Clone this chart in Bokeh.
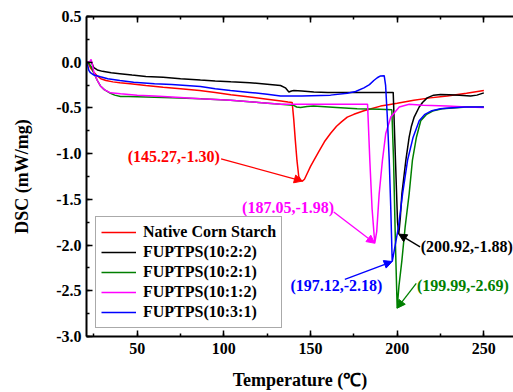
from bokeh.plotting import figure
from bokeh.models import (Range1d, LinearAxis, SingleIntervalTicker, PrintfTickFormatter,
                          Arrow, NormalHead, ColumnDataSource)
from bokeh.core.properties import value
from bokeh.embed import file_html
from bokeh.resources import INLINE

# ---------------- data ----------------
series_names = ["Native Corn Starch", "FUPTPS(10:2:2)", "FUPTPS(10:2:1)",
                "FUPTPS(10:1:2)", "FUPTPS(10:3:1)"]
series_colors = ["#FF0000", "#000000", "#008000", "#FF00FF", "#0000FF"]

red_T = [20.75, 22, 23, 25, 27, 29, 32, 36, 40, 46, 55, 65, 75, 86, 95, 104, 115, 125, 133, 137,
         139.4, 140.3, 141.2, 142.2, 143.2, 144.3, 145.27, 146.5, 148, 150, 152, 155, 158, 161.5,
         165, 168, 171.2, 175, 180.8, 185, 190.4, 195, 200, 209.6, 219, 228.9, 240, 250]
red_v = [0.0, -0.02, -0.06, -0.11, -0.15, -0.18, -0.20, -0.215, -0.225, -0.235, -0.255, -0.275,
         -0.29, -0.31, -0.33, -0.355, -0.38, -0.405, -0.425, -0.435,
         -0.44, -0.62, -0.85, -1.08, -1.25, -1.29, -1.30, -1.28, -1.22, -1.14, -1.07, -0.97, -0.87,
         -0.78, -0.70, -0.65, -0.60, -0.57, -0.53, -0.51, -0.48, -0.465, -0.45, -0.415, -0.39,
         -0.37, -0.34, -0.31]

black_T = [20.75, 23.5, 24.3, 25, 27, 30, 35, 40, 47, 55, 65, 75, 86.5, 95, 104, 115, 125, 132.7,
           135.5, 137.5, 139, 140.4, 145, 151.9, 160, 170, 180, 190, 197.7, 199.0, 200.2, 200.92,
           201.8, 202.7, 205, 206.9, 208.2, 209.8, 212.7, 214.6, 217.3, 221, 225, 230, 236, 242.3,
           246, 250]
black_v = [0.0, 0.0, -0.03, -0.06, -0.085, -0.10, -0.115, -0.125, -0.14, -0.155, -0.165, -0.18,
           -0.195, -0.205, -0.215, -0.225, -0.24, -0.255, -0.28, -0.325, -0.315, -0.31, -0.315,
           -0.325, -0.33, -0.33, -0.33, -0.33, -0.33, -1.07, -1.75, -1.88, -1.70, -1.44, -1.07,
           -0.82, -0.70, -0.60, -0.49, -0.44, -0.39, -0.36, -0.353, -0.355, -0.36, -0.37, -0.36,
           -0.335]

green_T = [20.75, 22, 23.5, 25, 27, 28.8, 31, 34.6, 37, 40.4, 45, 55, 70, 86.5, 103.8, 120, 132.7,
           140, 142, 144.2, 148, 151.7, 165, 176.9, 190, 196.9, 197.9, 199.0, 199.99, 201, 202.7,
           204.6, 206.9, 208.8, 211.1, 213.6, 217, 221, 226, 232, 240, 250]
green_v = [0.0, -0.01, -0.05, -0.12, -0.20, -0.26, -0.30, -0.34, -0.36, -0.375, -0.375, -0.38,
           -0.39, -0.40, -0.415, -0.44, -0.46, -0.47, -0.49, -0.495, -0.485, -0.48, -0.495, -0.51,
           -0.515, -0.52, -1.07, -2.0, -2.69, -2.45, -2.17, -1.80, -1.44, -1.07, -0.82, -0.64,
           -0.57, -0.53, -0.51, -0.50, -0.49, -0.49]

magenta_T = [20.75, 22.5, 23.4, 24.2, 25, 27, 28.8, 31, 34.6, 40.4, 50, 60, 70, 86.5, 103.8, 120,
             132.7, 150, 170, 182.9, 184.2, 185.5, 187.05, 188.2, 189.6, 191.5, 193.4, 196.3,
             201.2, 206.9, 215, 228.9, 240, 250]
magenta_v = [0.0, 0.0, 0.03, -0.03, -0.11, -0.20, -0.26, -0.30, -0.335, -0.345, -0.36, -0.37,
             -0.38, -0.40, -0.415, -0.44, -0.46, -0.46, -0.46, -0.46, -1.07, -1.60, -1.98, -1.85,
             -1.44, -1.07, -0.78, -0.60, -0.49, -0.46, -0.47, -0.48, -0.49, -0.495]

blue_T = [20.75, 21.5, 22.1, 23, 25, 28.8, 33, 40, 47.9, 60, 70, 86.5, 95, 103.8, 115, 125, 132.7,
          145, 161.5, 171.2, 176, 180.8, 184, 186.5, 188.5, 190.4, 192.5, 193.3, 194.3, 195.4,
          196.3, 197.12, 198.5, 200.75, 203.1, 206.0, 209.2, 212.7, 216, 220, 225, 230, 238.6, 250]
blue_v = [0.0, -0.04, -0.09, -0.115, -0.14, -0.16, -0.18, -0.20, -0.22, -0.235, -0.245, -0.265,
          -0.29, -0.31, -0.33, -0.35, -0.37, -0.37, -0.36, -0.34, -0.32, -0.28, -0.245, -0.20,
          -0.17, -0.15, -0.147, -0.25, -0.60, -1.07, -1.60, -2.18, -2.04, -1.80, -1.44, -1.07,
          -0.82, -0.64, -0.57, -0.53, -0.51, -0.50, -0.49, -0.49]

series_T = [red_T, black_T, green_T, magenta_T, blue_T]
series_v = [red_v, black_v, green_v, magenta_v, blue_v]

# peak annotations
peak_T = [145.27, 187.05, 200.92, 197.12, 199.99]
peak_v = [-1.30, -1.98, -1.88, -2.18, -2.69]
peak_colors = ["#FF0000", "#FF00FF", "#000000", "#0000FF", "#008000"]
# label placement (layout)
label_x = [97.6, 163.6, 213.6, 138.4, 211.4]
label_y = [-1.031, -1.587, -2.013, -2.438, -2.438]
label_align = ["right", "right", "left", "left", "left"]
arrow_x0 = [98.4, 163.4, 213.2, 169.8, 211.0]
arrow_y0 = [-1.056, -1.639, -2.02, -2.376, -2.42]

x_ticks_interval = 50
y_ticks_interval = 0.5

FONT = "Liberation Serif"

p = figure(width=513, height=392, output_backend="svg", toolbar_location=None,
           x_range=Range1d(20.75, 267.1), y_range=Range1d(-3.0, 0.5),
           min_border_left=86, min_border_right=0, min_border_top=16, min_border_bottom=55,
           background_fill_color="white", border_fill_color="white")
p.grid.visible = False
p.outline_line_color = None

for T, v, name, col in zip(series_T, series_v, series_names, series_colors):
    p.line(T, v, line_color=col, line_width=1.5, legend_label=name)


def style_axis(ax, ticker, show_labels=True):
    ax.ticker = ticker
    ax.axis_line_width = 2
    ax.axis_line_color = "black"
    ax.major_tick_in = 6
    ax.major_tick_out = 0
    ax.minor_tick_in = 3
    ax.minor_tick_out = 0
    ax.major_tick_line_width = 1.5
    ax.minor_tick_line_width = 1.5
    ax.major_tick_line_color = "black"
    ax.minor_tick_line_color = "black"
    ax.major_label_text_font = FONT
    ax.major_label_text_font_style = "bold"
    ax.major_label_text_color = "black"
    ax.axis_label_text_font = FONT
    ax.axis_label_text_font_style = "bold"
    ax.axis_label_text_color = "black"
    if not show_labels:
        ax.major_label_text_font_size = "1px"
        ax.major_label_text_color = None
        ax.major_label_standoff = 0


xt = SingleIntervalTicker(interval=x_ticks_interval, num_minor_ticks=2)
yt = SingleIntervalTicker(interval=y_ticks_interval, num_minor_ticks=2)

xa = p.xaxis[0]
style_axis(xa, xt)
xa.major_label_text_font_size = "16px"
xa.major_label_standoff = 6
xa.axis_label = "Temperature (℃)"
xa.axis_label_text_font_size = "18px"
xa.axis_label_standoff = 13

ya = p.yaxis[0]
style_axis(ya, yt)
ya.formatter = PrintfTickFormatter(format="%.1f")
ya.major_label_text_font_size = "16px"
ya.major_label_standoff = 5
ya.axis_label = "DSC (mW/mg)"
ya.axis_label_text_font_size = "18px"
ya.axis_label_standoff = 21

top = LinearAxis()
style_axis(top, SingleIntervalTicker(interval=x_ticks_interval, num_minor_ticks=2), show_labels=False)
p.add_layout(top, "above")

# annotations
texts = ["(%.2f,%.2f)" % (t, v) for t, v in zip(peak_T, peak_v)]
src = ColumnDataSource(dict(x=label_x, y=label_y, text=texts, color=peak_colors, align=label_align))
p.text(x="x", y="y", text="text", text_color="color", text_align="align",
       text_baseline="middle", text_font=value(FONT), text_font_style="bold",
       text_font_size="16px", source=src)

for x0, y0, x1, y1, c in zip(arrow_x0, arrow_y0, peak_T, peak_v, peak_colors):
    p.add_layout(Arrow(end=NormalHead(size=8, fill_color=c, line_color=c, line_width=1),
                       x_start=x0, y_start=y0, x_end=x1, y_end=y1,
                       line_color=c, line_width=1.3))

lg = p.legend[0]
lg.location = (9, 8)
lg.label_text_font = FONT
lg.label_text_font_style = "bold"
lg.label_text_font_size = "16px"
lg.label_text_color = "black"
lg.label_height = 20
lg.glyph_height = 20
lg.glyph_width = 35
lg.spacing = 0
lg.padding = 5
lg.label_standoff = 7
lg.border_line_color = "#555555"
lg.border_line_width = 1
lg.background_fill_alpha = 1.0
lg.margin = 0

with open("out.html", "w") as f:
    f.write(file_html(p, INLINE))
